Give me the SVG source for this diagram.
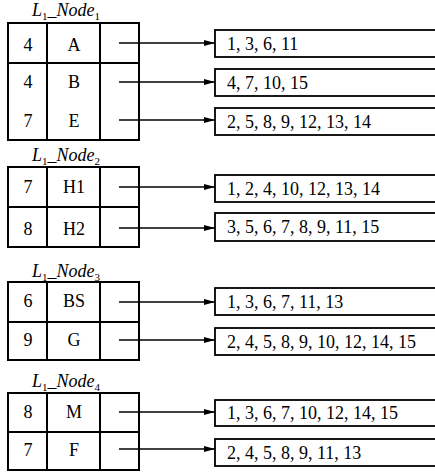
<svg xmlns="http://www.w3.org/2000/svg" width="435" height="472" viewBox="0 0 435 472">
<style>
.t{font-family:'Liberation Serif',serif;font-size:18px;fill:#000}
.c{text-anchor:middle}
.lab{font-family:'Liberation Serif',serif;font-size:18px;font-style:italic;fill:#000}
.sub{font-size:11px;font-style:normal}
.ln{stroke:#000;stroke-width:2;fill:none}
.bx{stroke:#000;stroke-width:1.8;fill:#fff}
.ar{stroke:#000;stroke-width:1.5;fill:none;marker-end:url(#ah)}
</style>
<defs>
<marker id="ah" viewBox="0 0 11 6" refX="11" refY="3" markerWidth="11" markerHeight="6" markerUnits="userSpaceOnUse" orient="auto">
<path d="M0,0 L11,3 L0,6 Z" fill="#000"/>
</marker>
</defs>
<rect width="435" height="472" fill="#fff"/>

<g id="table1">
<text class="lab" x="32" y="16">L<tspan class="sub" dy="4">1</tspan><tspan dy="-4">_Node</tspan><tspan class="sub" dy="4">1</tspan></text>
<rect class="ln" x="8" y="23" width="131" height="117"/>
<line class="ln" x1="8" y1="63" x2="139" y2="63"/>
<line class="ln" x1="47" y1="23" x2="47" y2="140"/>
<line class="ln" x1="100" y1="23" x2="100" y2="140"/>
<text class="t c" x="28" y="51">4</text><text class="t c" x="74" y="51">A</text>
<text class="t c" x="28" y="88">4</text><text class="t c" x="74" y="88">B</text>
<text class="t c" x="28" y="127">7</text><text class="t c" x="74" y="127">E</text>
</g>

<g id="table2">
<text class="lab" x="32" y="161">L<tspan class="sub" dy="4">1</tspan><tspan dy="-4">_Node</tspan><tspan class="sub" dy="4">2</tspan></text>
<rect class="ln" x="8" y="167" width="131" height="80"/>
<line class="ln" x1="8" y1="207" x2="139" y2="207"/>
<line class="ln" x1="47" y1="167" x2="47" y2="247"/>
<line class="ln" x1="100" y1="167" x2="100" y2="247"/>
<text class="t c" x="28" y="193">7</text><text class="t c" x="74" y="193">H1</text>
<text class="t c" x="28" y="235">8</text><text class="t c" x="74" y="235">H2</text>
</g>

<g id="table3">
<text class="lab" x="32" y="277">L<tspan class="sub" dy="4">1</tspan><tspan dy="-4">_Node</tspan><tspan class="sub" dy="4">3</tspan></text>
<rect class="ln" x="8" y="282" width="131" height="78"/>
<line class="ln" x1="8" y1="322" x2="139" y2="322"/>
<line class="ln" x1="47" y1="282" x2="47" y2="360"/>
<line class="ln" x1="100" y1="282" x2="100" y2="360"/>
<text class="t c" x="28" y="307">6</text><text class="t c" x="74" y="307">BS</text>
<text class="t c" x="28" y="346">9</text><text class="t c" x="74" y="346">G</text>
</g>

<g id="table4">
<text class="lab" x="32" y="387">L<tspan class="sub" dy="4">1</tspan><tspan dy="-4">_Node</tspan><tspan class="sub" dy="4">4</tspan></text>
<rect class="ln" x="8" y="393" width="131" height="77"/>
<line class="ln" x1="8" y1="432" x2="139" y2="432"/>
<line class="ln" x1="47" y1="393" x2="47" y2="470"/>
<line class="ln" x1="100" y1="393" x2="100" y2="470"/>
<text class="t c" x="28" y="418">8</text><text class="t c" x="74" y="418">M</text>
<text class="t c" x="28" y="456">7</text><text class="t c" x="74" y="456">F</text>
</g>

<g id="list-A"><rect class="bx" x="215" y="30" width="230" height="27"/><text class="t" x="227" y="50">1, 3, 6, 11</text></g>
<g id="list-B"><rect class="bx" x="215" y="69" width="230" height="27"/><text class="t" x="227" y="89">4, 7, 10, 15</text></g>
<g id="list-E"><rect class="bx" x="215" y="108" width="230" height="27"/><text class="t" x="227" y="128">2, 5, 8, 9, 12, 13, 14</text></g>
<g id="list-H1"><rect class="bx" x="215" y="175" width="230" height="27"/><text class="t" x="227" y="195">1, 2, 4, 10, 12, 13, 14</text></g>
<g id="list-H2"><rect class="bx" x="215" y="213" width="230" height="28"/><text class="t" x="227" y="233">3, 5, 6, 7, 8, 9, 11, 15</text></g>
<g id="list-BS"><rect class="bx" x="215" y="288" width="230" height="27"/><text class="t" x="227" y="308">1, 3, 6, 7, 11, 13</text></g>
<g id="list-G"><rect class="bx" x="215" y="328" width="230" height="27"/><text class="t" x="227" y="348">2, 4, 5, 8, 9, 10, 12, 14, 15</text></g>
<g id="list-M"><rect class="bx" x="215" y="400" width="230" height="26"/><text class="t" x="227" y="419">1, 3, 6, 7, 10, 12, 14, 15</text></g>
<g id="list-F"><rect class="bx" x="215" y="439" width="230" height="27"/><text class="t" x="227" y="459">2, 4, 5, 8, 9, 11, 13</text></g>

<g id="connectors">
<line class="ar" x1="119" y1="43" x2="215" y2="43"/>
<line class="ar" x1="119" y1="82" x2="215" y2="82"/>
<line class="ar" x1="119" y1="120" x2="215" y2="120"/>
<line class="ar" x1="119" y1="187" x2="215" y2="187"/>
<line class="ar" x1="119" y1="228" x2="215" y2="228"/>
<line class="ar" x1="119" y1="302" x2="215" y2="302"/>
<line class="ar" x1="119" y1="340" x2="215" y2="340"/>
<line class="ar" x1="119" y1="412" x2="215" y2="412"/>
<line class="ar" x1="119" y1="449" x2="215" y2="449"/>
</g>
</svg>
